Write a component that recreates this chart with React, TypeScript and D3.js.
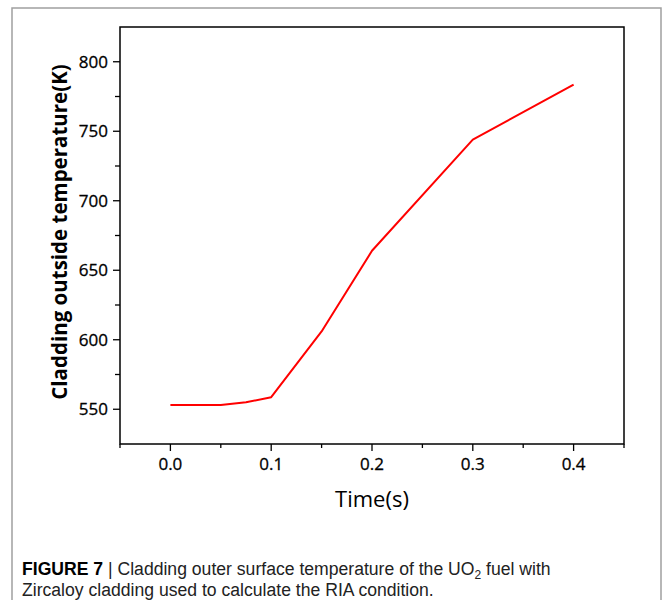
import React from "react";
import * as d3 from "d3";

const times = [0, 0.05, 0.075, 0.1, 0.15, 0.2, 0.3, 0.4];
const temps = [553, 553, 555, 558.7, 606, 664, 744, 783.5];
const xMajorTicks = [0, 0.1, 0.2, 0.3, 0.4];
const xMinorTicks = [-0.05, 0.05, 0.15, 0.25, 0.35, 0.45];
const yMajorTicks = [550, 600, 650, 700, 750, 800];
const yMinorTicks = [575, 625, 675, 725, 775];
const xLabel = "Time(s)";
const yLabel = "Cladding outside temperature(K)";

export default function App() {
  const left = 120, right = 624, top = 27, bottom = 444;
  const x = d3.scaleLinear().domain([-0.05, 0.45]).range([left, right]);
  const y = d3.scaleLinear().domain([525, 825]).range([bottom, top]);
  const data = times.map((t, i) => [t, temps[i]] as [number, number]);
  const line = d3.line<[number, number]>().x(d => x(d[0])).y(d => y(d[1]));
  const tickFont = "'Open Sans', sans-serif";
  const capFont = "'Liberation Sans', Arial, sans-serif";
  return (
    <svg width={663} height={600} style={{ position: "absolute", left: 0, top: 0, background: "#fff" }}>
      <path d="M12,605 V8 H661 V605" fill="none" stroke="#a0a0a0" strokeWidth={1.5} />
      <rect x={left} y={top} width={right - left} height={bottom - top} fill="none" stroke="#000" strokeWidth={1.5} />
      {xMajorTicks.map(t => (
        <g key={"xm" + t}>
          <line x1={x(t)} x2={x(t)} y1={bottom} y2={bottom + 7} stroke="#000" strokeWidth={1.3} />
          <text x={x(t)} y={bottom + 26} textAnchor="middle" fontFamily={tickFont} fontSize={17} fill="#000" stroke="#000" strokeWidth={0.3}>{t.toFixed(1)}</text>
        </g>
      ))}
      {xMinorTicks.map(t => (
        <line key={"xn" + t} x1={x(t)} x2={x(t)} y1={bottom} y2={bottom + 4} stroke="#000" strokeWidth={1.3} />
      ))}
      {yMajorTicks.map(v => (
        <g key={"ym" + v}>
          <line x1={left - 7} x2={left} y1={y(v)} y2={y(v)} stroke="#000" strokeWidth={1.3} />
          <text x={left - 12} y={y(v)} dy="0.35em" textAnchor="end" fontFamily={tickFont} fontSize={17} fill="#000" stroke="#000" strokeWidth={0.3}>{v}</text>
        </g>
      ))}
      {yMinorTicks.map(v => (
        <line key={"yn" + v} x1={left - 5} x2={left} y1={y(v)} y2={y(v)} stroke="#000" strokeWidth={1.3} />
      ))}
      <path d={line(data) || ""} fill="none" stroke="#ff0000" strokeWidth={2} strokeLinejoin="round" />
      <text x={(left + right) / 2} y={507} textAnchor="middle" fontFamily={tickFont} fontSize={22} fill="#000">{xLabel}</text>
      <text transform={`translate(67,${232}) rotate(-90)`} textAnchor="middle" fontFamily={tickFont} fontWeight="bold" fontSize={20.5} fill="#000">{yLabel}</text>
      <text x={22} y={575} fontFamily={capFont} fontSize={17.6} fill="#222">
        <tspan fontWeight="bold" fill="#000">FIGURE 7</tspan>
        <tspan> | Cladding outer surface temperature of the UO</tspan>
        <tspan fontSize={12} dy={4}>2</tspan>
        <tspan dy={-4}> fuel with</tspan>
      </text>
      <text x={22} y={596} fontFamily={capFont} fontSize={17.6} fill="#222">Zircaloy cladding used to calculate the RIA condition.</text>
    </svg>
  );
}
